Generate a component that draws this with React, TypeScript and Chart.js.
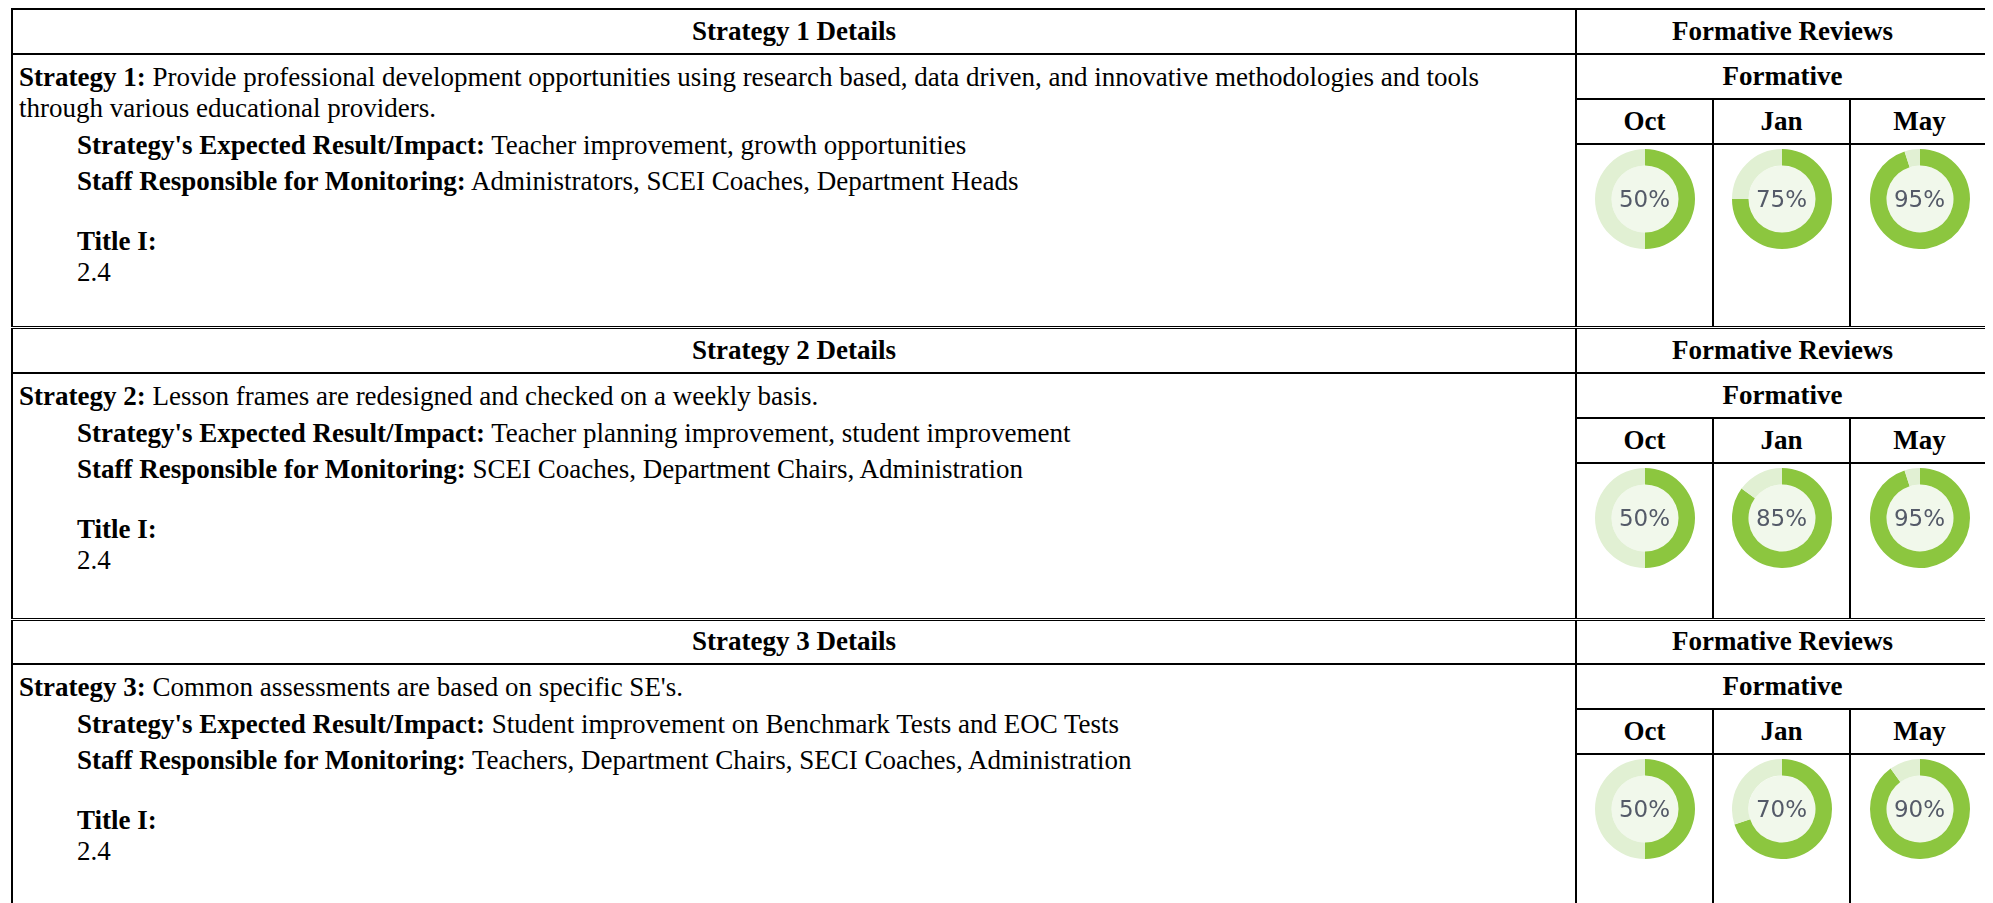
import React, { useEffect, useRef } from "react";
import { Chart, registerables } from "chart.js";

Chart.register(...registerables);

// ---- data ----
const strategyTitles = ["Strategy 1 Details", "Strategy 2 Details", "Strategy 3 Details"];
const strategyLabels = ["Strategy 1:", "Strategy 2:", "Strategy 3:"];
// "\n" marks where the reference wraps the line
const strategyTexts = [
  "Provide professional development opportunities using research based, data driven, and innovative methodologies and tools\nthrough various educational providers.",
  "Lesson frames are redesigned and checked on a weekly basis.",
  "Common assessments are based on specific SE's.",
];
const expectedResults = [
  "Teacher improvement, growth opportunities",
  "Teacher planning improvement, student improvement",
  "Student improvement on Benchmark Tests and EOC Tests",
];
const staffResponsible = [
  "Administrators, SCEI Coaches, Department Heads",
  "SCEI Coaches, Department Chairs, Administration",
  "Teachers, Department Chairs, SECI Coaches, Administration",
];
const titleOne = ["2.4", "2.4", "2.4"];
const reviewMonths = ["Oct", "Jan", "May"];
const octValues = [50, 50, 50];
const janValues = [75, 85, 70];
const mayValues = [95, 95, 90];

const FILLED = "#8cc63f";
const EMPTY = "#e1f0d3";
const CENTER = "#f1f8eb";

const serif = "'Times New Roman', 'Liberation Serif', serif";
const DONUT = 100;

const centerFill = {
  id: "centerFill",
  beforeDatasetsDraw(chart: any) {
    const meta = chart.getDatasetMeta(0);
    const arc = meta.data[0];
    if (!arc) return;
    const { x, y, innerRadius } = arc as any;
    const ctx = chart.ctx;
    ctx.save();
    ctx.beginPath();
    ctx.arc(x, y, innerRadius, 0, Math.PI * 2);
    ctx.fillStyle = CENTER;
    ctx.fill();
    ctx.restore();
  },
};

function Donut({ value }: { value: number }) {
  const ref = useRef<HTMLCanvasElement | null>(null);
  useEffect(() => {
    if (!ref.current) return;
    const chart = new Chart(ref.current, {
      type: "doughnut",
      data: {
        labels: ["Done", "Remaining"],
        datasets: [
          {
            data: [value, 100 - value],
            backgroundColor: [FILLED, EMPTY],
            borderWidth: 0,
          },
        ],
      },
      options: {
        animation: false,
        responsive: false,
        devicePixelRatio: 1,
        cutout: "67%",
        events: [],
        plugins: { legend: { display: false }, tooltip: { enabled: false } },
      },
      plugins: [centerFill],
    });
    return () => chart.destroy();
  }, [value]);
  return (
    <div style={{ position: "relative", width: DONUT, height: DONUT, margin: "4px auto 0" }}>
      <canvas ref={ref} width={DONUT} height={DONUT} style={{ display: "block" }} />
      <div
        style={{
          position: "absolute",
          left: 0,
          top: 0,
          width: DONUT,
          height: DONUT,
          display: "flex",
          alignItems: "center",
          justifyContent: "center",
          fontFamily: "'DejaVu Sans', Verdana, sans-serif",
          fontSize: 23,
          lineHeight: "26px",
          color: "#545a68",
        }}
      >
        {value}%
      </div>
    </div>
  );
}

const cellBase: React.CSSProperties = {
  border: "2px solid #000",
  padding: 0,
  fontFamily: serif,
  fontSize: 27,
  lineHeight: "31px",
  color: "#000",
};

function Block({ i, contentHeight }: { i: number; contentHeight: number }) {
  const topBorder = i === 0 ? "2px solid #000" : "3px double #000";
  const vals = [octValues[i], janValues[i], mayValues[i]];
  const parts = strategyTexts[i].split("\n");
  return (
    <table
      style={{
        borderCollapse: "collapse",
        tableLayout: "fixed",
        width: 1977,
      }}
    >
      <colgroup>
        <col style={{ width: 1564 }} />
        <col style={{ width: 137 }} />
        <col style={{ width: 137 }} />
        <col style={{ width: 139 }} />
      </colgroup>
      <tbody>
        <tr style={{ height: 45 }}>
          <td style={{ ...cellBase, borderTop: topBorder, textAlign: "center", fontWeight: "bold" }}>
            {strategyTitles[i]}
          </td>
          <td
            colSpan={3}
            style={{ ...cellBase, borderTop: topBorder, textAlign: "center", fontWeight: "bold" }}
          >
            Formative Reviews
          </td>
        </tr>
        <tr style={{ height: 45 }}>
          <td
            rowSpan={3}
            style={{
              ...cellBase,
              verticalAlign: "top",
              padding: "7px 6px 0 6px",
              borderBottom: i === 2 ? "2px solid #000" : "none",
            }}
          >
            <div style={{ whiteSpace: "nowrap" }}>
              <b>{strategyLabels[i]}</b>{" "}
              <span>{parts[0]}</span>
            </div>
            {parts.slice(1).map((p, k) => (
              <div key={k} style={{ whiteSpace: "nowrap" }}>
                {p}
              </div>
            ))}
            <div style={{ marginLeft: 58, marginTop: 6 }}>
              <div>
                <b>Strategy's Expected Result/Impact:</b> {expectedResults[i]}
              </div>
              <div style={{ marginTop: 5 }}>
                <b>Staff Responsible for Monitoring:</b> {staffResponsible[i]}
              </div>
              <div style={{ marginTop: 29 }}>
                <b>Title I:</b>
              </div>
              <div>{titleOne[i]}</div>
            </div>
          </td>
          <td colSpan={3} style={{ ...cellBase, textAlign: "center", fontWeight: "bold" }}>
            Formative
          </td>
        </tr>
        <tr style={{ height: 45 }}>
          {reviewMonths.map((m) => (
            <td key={m} style={{ ...cellBase, textAlign: "center", fontWeight: "bold" }}>
              {m}
            </td>
          ))}
        </tr>
        <tr style={{ height: contentHeight - 90 }}>
          {vals.map((v, k) => (
            <td
              key={k}
              style={{
                ...cellBase,
                verticalAlign: "top",
                borderBottom: i === 2 ? "2px solid #000" : "none",
              }}
            >
              <Donut value={v} />
            </td>
          ))}
        </tr>
      </tbody>
    </table>
  );
}

export default function App() {
  return (
    <div style={{ paddingLeft: 3 }}>
      <Block i={0} contentHeight={272} />
      <Block i={1} contentHeight={245} />
      <Block i={2} contentHeight={245} />
    </div>
  );
}
